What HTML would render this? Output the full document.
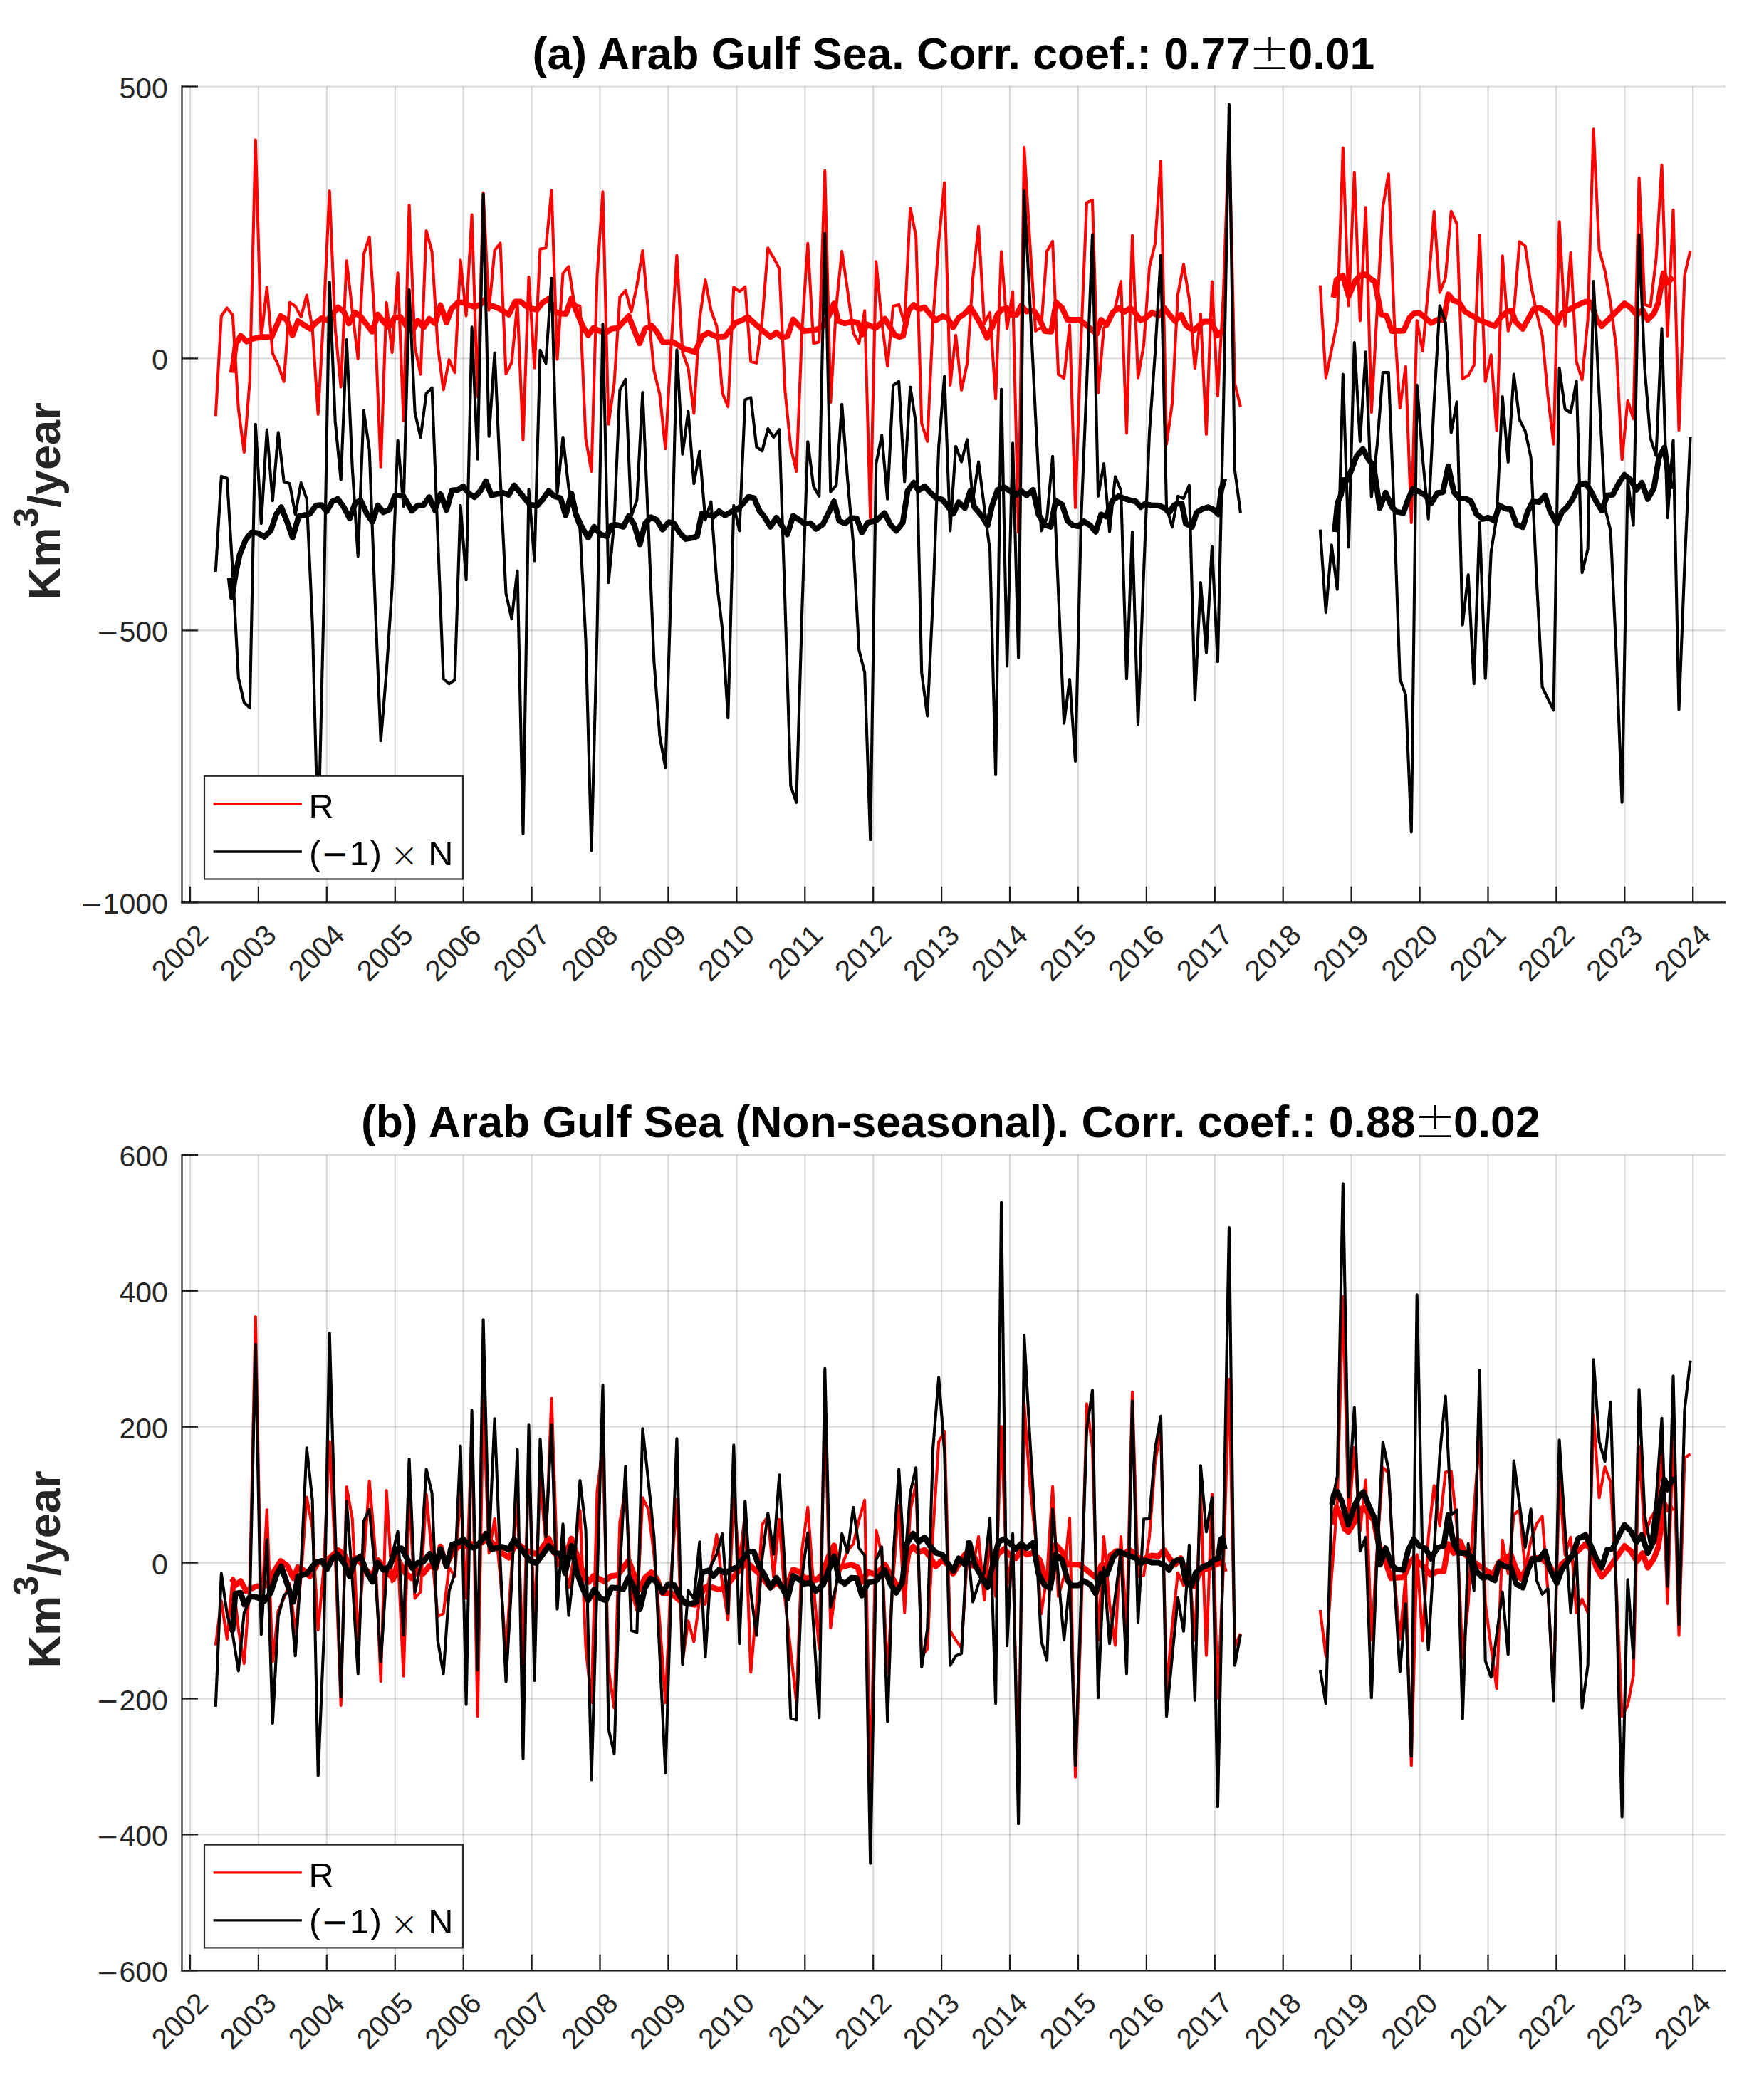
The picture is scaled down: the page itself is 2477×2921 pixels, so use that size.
<!DOCTYPE html>
<html><head><meta charset="utf-8"><title>Arab Gulf Sea</title>
<style>
html,body{margin:0;padding:0;background:#fff}
body{width:2477px;height:2921px;overflow:hidden}
svg{display:block}
text{font-family:"Liberation Sans",sans-serif}
.tk{font-size:41px;fill:#262626}
.mn{font-family:"DejaVu Sans",sans-serif;font-size:38.7px}
.mn2{font-family:"DejaVu Sans",sans-serif;font-size:46.3px}
.tm{font-family:"DejaVu Sans",sans-serif;font-weight:200;font-size:47.5px}
.ti{font-size:62.5px;font-weight:bold;fill:#000}
.yl{font-size:63.2px;font-weight:bold;fill:#262626}
.lg{font-size:48.7px;fill:#000}
.pm{font-weight:200;font-family:"DejaVu Sans",sans-serif;font-size:70.5px}
</style></head><body>
<svg width="2477" height="2921" viewBox="0 0 2477 2921">
<defs>
<clipPath id="clipa"><rect x="255.5" y="121.5" width="2167.5" height="1145.8"/></clipPath>
<clipPath id="clipb"><rect x="255.5" y="1621.9" width="2167.5" height="1145.4"/></clipPath>
</defs>
<rect width="2477" height="2921" fill="#fff"/>
<line x1="267.0" y1="121.5" x2="267.0" y2="1267.3" stroke="#262626" stroke-opacity="0.165" stroke-width="2.2"/>
<line x1="362.9" y1="121.5" x2="362.9" y2="1267.3" stroke="#262626" stroke-opacity="0.165" stroke-width="2.2"/>
<line x1="458.8" y1="121.5" x2="458.8" y2="1267.3" stroke="#262626" stroke-opacity="0.165" stroke-width="2.2"/>
<line x1="554.8" y1="121.5" x2="554.8" y2="1267.3" stroke="#262626" stroke-opacity="0.165" stroke-width="2.2"/>
<line x1="650.7" y1="121.5" x2="650.7" y2="1267.3" stroke="#262626" stroke-opacity="0.165" stroke-width="2.2"/>
<line x1="746.6" y1="121.5" x2="746.6" y2="1267.3" stroke="#262626" stroke-opacity="0.165" stroke-width="2.2"/>
<line x1="842.5" y1="121.5" x2="842.5" y2="1267.3" stroke="#262626" stroke-opacity="0.165" stroke-width="2.2"/>
<line x1="938.4" y1="121.5" x2="938.4" y2="1267.3" stroke="#262626" stroke-opacity="0.165" stroke-width="2.2"/>
<line x1="1034.4" y1="121.5" x2="1034.4" y2="1267.3" stroke="#262626" stroke-opacity="0.165" stroke-width="2.2"/>
<line x1="1130.3" y1="121.5" x2="1130.3" y2="1267.3" stroke="#262626" stroke-opacity="0.165" stroke-width="2.2"/>
<line x1="1226.2" y1="121.5" x2="1226.2" y2="1267.3" stroke="#262626" stroke-opacity="0.165" stroke-width="2.2"/>
<line x1="1322.1" y1="121.5" x2="1322.1" y2="1267.3" stroke="#262626" stroke-opacity="0.165" stroke-width="2.2"/>
<line x1="1418.0" y1="121.5" x2="1418.0" y2="1267.3" stroke="#262626" stroke-opacity="0.165" stroke-width="2.2"/>
<line x1="1514.0" y1="121.5" x2="1514.0" y2="1267.3" stroke="#262626" stroke-opacity="0.165" stroke-width="2.2"/>
<line x1="1609.9" y1="121.5" x2="1609.9" y2="1267.3" stroke="#262626" stroke-opacity="0.165" stroke-width="2.2"/>
<line x1="1705.8" y1="121.5" x2="1705.8" y2="1267.3" stroke="#262626" stroke-opacity="0.165" stroke-width="2.2"/>
<line x1="1801.7" y1="121.5" x2="1801.7" y2="1267.3" stroke="#262626" stroke-opacity="0.165" stroke-width="2.2"/>
<line x1="1897.6" y1="121.5" x2="1897.6" y2="1267.3" stroke="#262626" stroke-opacity="0.165" stroke-width="2.2"/>
<line x1="1993.6" y1="121.5" x2="1993.6" y2="1267.3" stroke="#262626" stroke-opacity="0.165" stroke-width="2.2"/>
<line x1="2089.5" y1="121.5" x2="2089.5" y2="1267.3" stroke="#262626" stroke-opacity="0.165" stroke-width="2.2"/>
<line x1="2185.4" y1="121.5" x2="2185.4" y2="1267.3" stroke="#262626" stroke-opacity="0.165" stroke-width="2.2"/>
<line x1="2281.3" y1="121.5" x2="2281.3" y2="1267.3" stroke="#262626" stroke-opacity="0.165" stroke-width="2.2"/>
<line x1="2377.2" y1="121.5" x2="2377.2" y2="1267.3" stroke="#262626" stroke-opacity="0.165" stroke-width="2.2"/>
<line x1="255.5" y1="121.5" x2="2423.0" y2="121.5" stroke="#262626" stroke-opacity="0.165" stroke-width="2.2"/>
<line x1="255.5" y1="503.4" x2="2423.0" y2="503.4" stroke="#262626" stroke-opacity="0.165" stroke-width="2.2"/>
<line x1="255.5" y1="885.4" x2="2423.0" y2="885.4" stroke="#262626" stroke-opacity="0.165" stroke-width="2.2"/>
<line x1="255.5" y1="1267.3" x2="2423.0" y2="1267.3" stroke="#262626" stroke-opacity="0.165" stroke-width="2.2"/>
<g clip-path="url(#clipa)">
<polyline points="302.8,584.3 310.8,444.0 318.8,432.5 326.8,442.7 334.8,574.1 342.8,635.3 350.8,533.3 358.8,196.5 366.8,475.9 374.8,403.2 382.8,496.3 390.7,512.9 398.7,535.8 406.7,424.8 414.7,429.9 422.7,445.3 430.7,414.6 438.7,461.8 446.7,581.7 454.7,438.9 462.7,268.0 470.7,461.8 478.7,543.5 486.7,366.2 494.7,436.3 502.7,503.9 510.7,357.2 518.7,333.0 526.7,456.7 534.7,655.6 542.6,424.8 550.6,495.0 558.6,383.3 566.6,590.7 574.6,287.9 582.6,487.3 590.6,525.6 598.6,324.1 606.6,353.4 614.6,484.8 622.6,547.3 630.6,505.2 638.6,523.1 646.6,365.4 654.6,443.5 662.6,301.6 670.6,557.5 678.6,270.5 686.6,435.6 694.6,351.6 702.5,341.4 710.5,525.1 718.5,509.0 726.5,426.1 734.5,618.0 742.5,389.1 750.5,516.7 758.5,349.6 766.5,348.3 774.5,267.4 782.5,504.7 790.5,384.0 798.5,374.3 806.5,427.4 814.5,429.9 822.5,616.2 830.5,662.0 838.5,387.9 846.5,269.2 854.5,595.8 862.5,538.4 870.4,417.2 878.4,407.8 886.4,438.4 894.4,400.6 902.4,352.1 910.4,438.9 918.4,520.5 926.4,553.7 934.4,630.2 942.4,487.3 950.4,358.5 958.4,495.0 966.4,516.7 974.4,580.5 982.4,447.8 990.4,393.0 998.4,435.8 1006.4,458.0 1014.4,552.4 1022.3,571.0 1030.3,403.2 1038.3,409.5 1046.3,402.7 1054.3,507.8 1062.3,509.8 1070.3,449.1 1078.3,348.3 1086.3,362.3 1094.3,377.1 1102.3,548.6 1110.3,627.7 1118.3,662.0 1126.3,461.8 1134.3,341.9 1142.3,482.2 1150.3,480.2 1158.3,239.9 1166.3,565.2 1174.3,429.9 1182.2,352.7 1190.2,408.3 1198.2,467.4 1206.2,482.2 1214.2,436.3 1222.2,727.6 1230.2,367.4 1238.2,451.6 1246.2,514.1 1254.2,429.9 1262.2,427.9 1270.2,454.2 1278.2,292.2 1286.2,331.7 1294.2,594.5 1302.2,620.0 1310.2,449.1 1318.2,339.4 1326.2,256.5 1334.2,540.9 1342.1,470.8 1350.1,547.8 1358.1,510.3 1366.1,390.4 1374.1,317.7 1382.1,454.2 1390.1,438.9 1398.1,560.1 1406.1,353.4 1414.1,461.8 1422.1,409.5 1430.1,747.4 1438.1,206.7 1446.1,339.4 1454.1,464.9 1462.1,459.3 1470.1,352.7 1478.1,338.9 1486.1,525.6 1494.1,531.2 1502.0,456.2 1510.0,713.0 1518.0,477.1 1526.0,284.5 1534.0,281.2 1542.0,551.6 1550.0,460.6 1558.0,451.6 1566.0,432.5 1574.0,395.0 1582.0,608.5 1590.0,330.5 1598.0,530.7 1606.0,484.8 1614.0,375.1 1622.0,341.9 1630.0,225.9 1638.0,623.8 1646.0,566.4 1654.0,413.4 1662.0,371.3 1669.9,419.7 1677.9,517.4 1685.9,441.4 1693.9,609.8 1701.9,395.5 1709.9,556.2 1717.9,413.4 1725.9,185.1 1733.9,538.4 1741.9,571.5" fill="none" stroke="#ff0000" stroke-width="4.1" stroke-linejoin="round" stroke-linecap="butt"/>
<polyline points="1853.8,400.6 1861.8,530.7 1869.8,491.2 1877.8,451.6 1885.8,207.5 1893.8,429.4 1901.8,241.7 1909.8,450.4 1917.8,291.4 1925.8,579.2 1933.8,435.1 1941.8,290.9 1949.8,244.2 1957.8,449.1 1965.8,573.3 1973.8,514.6 1981.8,733.9 1989.7,450.4 1997.7,493.0 2005.7,403.2 2013.7,296.8 2021.7,410.8 2029.7,390.4 2037.7,296.8 2045.7,314.4 2053.7,532.0 2061.7,527.4 2069.7,512.9 2077.7,329.7 2085.7,535.8 2093.7,498.3 2101.7,604.7 2109.7,359.3 2117.7,464.9 2125.7,438.9 2133.7,339.4 2141.7,345.3 2149.6,399.3 2157.6,438.9 2165.6,471.5 2173.6,556.2 2181.6,623.8 2189.6,311.3 2197.6,458.0 2205.6,354.7 2213.6,507.8 2221.6,533.3 2229.6,449.1 2237.6,181.2 2245.6,350.9 2253.6,380.2 2261.6,426.1 2269.6,488.6 2277.6,645.5 2285.6,562.6 2293.6,588.1 2301.6,249.6 2309.5,427.7 2317.5,430.5 2325.5,363.9 2333.5,231.7 2341.5,472.0 2349.5,294.7 2357.5,604.2 2365.5,386.6 2373.5,351.9" fill="none" stroke="#ff0000" stroke-width="4.1" stroke-linejoin="round" stroke-linecap="butt"/>
<polyline points="325.8,523.6 331.1,483.5 338.0,471.5 346.4,479.7 354.6,475.9 366.8,473.3 381.4,473.3 394.1,444.0 402.6,449.1 410.7,470.8 418.4,450.9 435.5,461.8 443.9,452.9 451.5,447.0 459.7,449.6 466.8,441.4 474.5,431.7 482.7,437.6 489.8,454.2 498.7,438.9 506.4,444.5 522.4,465.7 530.6,441.9 538.3,451.6 545.9,459.3 553.6,446.5 562.5,445.3 570.7,458.0 579.1,464.9 586.7,450.4 594.9,459.8 602.8,447.8 611.0,454.2 618.6,428.7 627.0,452.9 633.9,433.8 642.9,424.8 650.5,424.8 658.2,428.7 667.1,431.2 674.7,427.4 682.4,419.7 687.5,429.9 692.8,429.9 701.7,433.8 714.4,441.9 723.4,423.6 731.0,423.6 741.2,431.7 754.0,435.1 762.1,424.8 771.3,419.0 778.2,436.3 785.9,440.2 794.8,440.9 802.4,419.0 810.1,438.9 819.0,459.3 825.9,470.8 833.1,460.6 849.6,468.2 858.6,461.8 867.5,460.6 882.8,444.0 898.1,482.2 905.8,461.8 914.7,457.2 922.3,465.7 930.5,480.2 945.3,480.5 960.6,489.9 975.9,494.5 986.1,472.0 994.3,467.4 1007.8,473.3 1018.0,472.6 1033.3,452.9 1042.2,449.6 1049.9,445.3 1065.2,459.3 1081.8,473.3 1090.2,466.9 1098.4,474.1 1106.0,472.0 1113.7,448.6 1121.5,456.7 1129.1,464.9 1145.7,463.1 1154.6,459.3 1163.6,444.0 1171.2,426.1 1176.8,450.4 1186.5,454.2 1195.5,451.6 1204.4,452.9 1210.8,469.5 1217.1,455.5 1229.9,460.6 1242.7,447.8 1249.8,459.3 1256.7,470.8 1263.1,473.3 1268.2,471.5 1275.8,436.3 1283.0,428.2 1289.8,434.3 1298.3,431.7 1305.2,440.2 1314.1,449.8 1323.8,444.0 1330.7,446.5 1338.3,459.8 1346.0,446.5 1354.9,440.2 1362.6,431.7 1370.2,443.5 1377.9,456.7 1386.0,474.6 1393.2,459.3 1400.8,441.4 1407.2,434.3 1413.6,432.5 1419.9,441.9 1427.6,441.9 1434.0,429.2 1441.6,437.6 1451.8,436.3 1460.0,449.1 1467.1,464.9 1476.1,465.7 1483.0,424.8 1491.4,432.5 1499.0,449.1 1515.6,449.1 1525.8,456.7 1539.8,469.0 1546.2,449.1 1553.9,456.2 1562.4,438.9 1570.6,432.5 1578.3,438.4 1587.2,432.5 1593.6,438.9 1601.2,449.8 1608.9,446.5 1617.8,438.9 1626.7,443.5 1634.9,432.5 1642.0,441.9 1650.2,451.1 1658.6,441.9 1665.0,456.2 1670.1,460.6 1676.5,463.9 1684.1,456.7 1690.5,451.6 1700.7,451.6 1709.6,470.8 1719.3,462.3" fill="none" stroke="#ff0000" stroke-width="8.0" stroke-linejoin="round" stroke-linecap="butt"/>
<polyline points="1872.4,418.0 1876.7,393.0 1885.7,387.3 1893.8,415.9 1902.2,395.5 1909.9,386.6 1917.6,385.3 1923.9,390.9 1930.8,396.0 1934.9,418.5 1939.2,441.4 1946.9,443.5 1954.5,464.9 1971.1,464.4 1978.8,447.0 1985.2,440.2 1992.9,439.4 2001.8,446.5 2009.4,453.7 2018.4,449.1 2027.3,449.1 2033.7,413.4 2041.3,422.3 2049.0,424.8 2057.1,437.6 2077.0,449.1 2098.7,458.0 2107.7,445.3 2116.6,437.6 2122.4,435.8 2128.1,451.6 2138.3,461.8 2153.6,433.8 2162.5,432.5 2172.7,438.9 2186.2,454.2 2193.1,440.2 2212.2,429.9 2226.3,423.6 2233.9,424.8 2241.6,447.8 2249.2,458.0 2258.2,449.1 2281.1,426.1 2290.1,432.5 2298.5,442.7 2306.6,435.1 2313.8,449.1 2322.4,440.2 2328.3,426.1 2335.7,383.8 2341.3,396.8 2349.5,389.4" fill="none" stroke="#ff0000" stroke-width="8.0" stroke-linejoin="round" stroke-linecap="butt"/>
<polyline points="302.8,802.8 310.8,668.9 318.8,671.4 326.8,804.1 334.8,952.0 342.8,986.5 350.8,994.1 358.8,595.8 366.8,735.2 374.8,603.6 382.8,703.3 390.7,607.4 398.7,676.5 406.7,679.1 414.7,722.4 422.7,677.8 430.7,700.8 438.7,875.5 446.7,1184.2 454.7,847.4 462.7,396.0 470.7,591.9 478.7,674.0 486.7,477.1 494.7,656.1 502.7,781.1 510.7,576.6 518.7,631.9 526.7,844.9 534.7,1040.1 542.6,944.4 550.6,824.5 558.6,618.4 566.6,711.0 574.6,407.0 582.6,579.2 590.6,614.0 598.6,552.4 606.6,544.7 614.6,750.5 622.6,953.3 630.6,960.2 638.6,955.1 646.6,709.7 654.6,814.3 662.6,459.3 670.6,644.6 678.6,272.6 686.6,612.8 694.6,495.5 702.5,671.4 710.5,833.4 718.5,869.1 726.5,801.5 734.5,1170.9 742.5,687.2 750.5,787.5 758.5,491.9 766.5,510.3 774.5,390.9 782.5,693.1 790.5,614.0 798.5,685.5 806.5,722.4 814.5,742.9 822.5,898.5 830.5,1194.4 838.5,885.7 846.5,454.9 854.5,818.1 862.5,732.7 870.4,547.8 878.4,532.8 886.4,725.0 894.4,702.0 902.4,551.1 910.4,737.8 918.4,929.1 926.4,1033.7 934.4,1078.3 942.4,819.4 950.4,491.2 958.4,637.8 966.4,577.9 974.4,679.1 982.4,633.7 990.4,730.1 998.4,704.6 1006.4,816.8 1014.4,884.4 1022.3,1008.2 1030.3,709.7 1038.3,745.4 1046.3,561.3 1054.3,558.3 1062.3,627.6 1070.3,633.2 1078.3,602.0 1086.3,614.0 1094.3,603.1 1102.3,844.9 1110.3,1103.8 1118.3,1126.8 1126.3,855.1 1134.3,620.4 1142.3,682.9 1150.3,696.9 1158.3,327.9 1166.3,690.6 1174.3,681.6 1182.2,567.7 1190.2,674.0 1198.2,763.3 1206.2,912.5 1214.2,944.4 1222.2,1179.3 1230.2,651.0 1238.2,611.5 1246.2,700.8 1254.2,540.9 1262.2,535.8 1270.2,676.5 1278.2,543.5 1286.2,594.5 1294.2,944.4 1302.2,1005.6 1310.2,838.5 1318.2,626.8 1326.2,528.7 1334.2,745.4 1342.1,626.8 1350.1,648.5 1358.1,617.3 1366.1,702.0 1374.1,648.5 1382.1,712.2 1390.1,773.5 1398.1,1088.0 1406.1,546.5 1414.1,935.5 1422.1,622.4 1430.1,924.0 1438.1,268.0 1446.1,422.3 1454.1,584.3 1462.1,745.4 1470.1,727.6 1478.1,640.8 1486.1,830.9 1494.1,1015.8 1502.0,954.1 1510.0,1068.9 1518.0,732.7 1526.0,538.4 1534.0,329.2 1542.0,696.9 1550.0,651.0 1558.0,746.7 1566.0,669.4 1574.0,688.8 1582.0,953.3 1590.0,746.7 1598.0,1017.1 1606.0,804.1 1614.0,607.7 1622.0,495.8 1630.0,358.5 1638.0,712.2 1646.0,740.3 1654.0,696.9 1662.0,700.0 1669.9,681.6 1677.9,982.7 1685.9,818.1 1693.9,916.3 1701.9,767.6 1709.9,929.1 1717.9,577.0 1725.9,146.8 1733.9,659.9 1741.9,719.9" fill="none" stroke="#000000" stroke-width="4.1" stroke-linejoin="round" stroke-linecap="butt"/>
<polyline points="1853.8,743.6 1861.8,860.2 1869.8,765.3 1877.8,827.8 1885.8,525.6 1893.8,768.4 1901.8,481.0 1909.8,619.9 1917.8,494.2 1925.8,698.2 1933.8,625.0 1941.8,523.1 1949.8,523.1 1957.8,722.4 1965.8,953.3 1973.8,975.5 1981.8,1168.4 1989.7,540.9 1997.7,643.4 2005.7,728.8 2013.7,565.1 2021.7,429.2 2029.7,452.9 2037.7,607.7 2045.7,564.4 2053.7,877.6 2061.7,807.1 2069.7,960.2 2077.7,733.9 2085.7,952.8 2093.7,776.0 2101.7,725.0 2109.7,557.0 2117.7,649.0 2125.7,525.6 2133.7,589.4 2141.7,605.1 2149.6,642.1 2157.6,811.7 2165.6,964.8 2173.6,981.4 2181.6,997.4 2189.6,516.7 2197.6,574.6 2205.6,579.7 2213.6,535.3 2221.6,804.1 2229.6,770.9 2237.6,395.0 2245.6,554.1 2253.6,712.2 2261.6,745.4 2269.6,918.9 2277.6,1126.8 2285.6,674.0 2293.6,737.8 2301.6,329.2 2309.5,518.0 2317.5,615.3 2325.5,639.5 2333.5,461.3 2341.5,727.0 2349.5,618.4 2357.5,996.7 2365.5,793.9 2373.5,614.0" fill="none" stroke="#000000" stroke-width="4.1" stroke-linejoin="round" stroke-linecap="butt"/>
<polyline points="322.7,811.2 325.8,838.5 331.1,804.1 336.7,778.6 344.9,758.2 353.3,747.4 362.2,748.7 371.2,753.8 380.1,745.4 387.8,722.4 394.9,712.2 403.1,732.7 410.7,754.8 419.6,725.0 434.9,721.9 443.9,709.7 451.5,709.2 458.7,717.9 466.8,704.1 474.5,700.8 482.7,712.2 491.1,728.1 498.7,706.6 506.4,702.6 515.3,721.9 523.0,732.7 530.6,709.7 538.3,719.4 547.2,715.3 554.8,695.7 566.3,696.4 578.3,717.3 586.7,709.7 594.4,709.7 602.8,698.2 610.5,716.1 618.6,693.9 627.0,716.1 634.7,688.5 642.9,688.0 650.5,682.9 658.2,693.1 666.3,698.2 674.7,689.3 682.4,675.8 690.1,695.7 705.5,691.8 714.4,694.9 722.1,681.6 732.3,694.4 743.8,708.4 754.0,710.2 761.6,702.0 770.6,689.3 778.2,696.9 787.1,699.5 794.3,723.7 802.4,693.1 808.8,722.4 817.8,741.6 825.9,755.1 834.3,739.8 843.3,750.5 852.2,753.1 858.6,737.8 866.2,737.2 875.2,739.8 882.8,725.0 890.5,736.5 898.6,764.5 905.8,735.2 914.2,726.3 922.3,730.1 930.5,743.6 938.9,733.2 946.6,735.2 954.2,748.0 962.7,756.9 970.8,755.6 979.0,753.1 985.4,721.2 992.5,721.9 1001.4,725.5 1009.8,717.9 1018.0,723.7 1026.9,718.6 1035.9,715.3 1043.5,707.1 1051.2,697.7 1058.8,699.5 1066.5,717.3 1072.9,725.0 1081.8,739.8 1090.2,727.0 1098.4,739.0 1105.5,750.5 1113.7,724.5 1122.6,730.1 1129.1,735.2 1138.1,734.7 1145.7,742.9 1155.4,736.5 1163.6,719.9 1171.2,704.1 1178.4,731.4 1186.5,735.2 1195.5,727.6 1203.1,728.1 1210.3,748.0 1218.4,733.9 1229.9,731.4 1242.1,720.4 1250.3,736.5 1258.5,745.4 1267.7,733.9 1274.5,689.3 1283.0,677.8 1289.8,688.8 1298.3,682.9 1305.2,690.6 1314.1,699.0 1323.0,701.5 1331.9,712.2 1338.8,721.2 1346.0,705.1 1354.9,713.5 1362.6,689.3 1368.2,712.2 1377.9,723.7 1386.8,737.8 1393.2,709.7 1400.8,688.0 1409.7,684.2 1418.7,689.8 1426.3,695.7 1434.0,689.3 1441.6,695.7 1450.6,688.0 1458.2,722.4 1467.1,737.2 1475.3,739.8 1482.4,703.3 1491.4,708.4 1499.0,731.4 1506.7,737.8 1514.3,739.0 1522.0,732.1 1530.9,737.8 1538.6,746.7 1546.2,722.4 1553.9,725.5 1557.9,712.2 1563.0,702.0 1570.6,696.9 1578.3,700.0 1587.2,702.6 1594.8,704.1 1602.0,712.2 1607.6,707.7 1617.8,709.7 1626.7,709.7 1635.7,713.5 1641.5,719.9 1648.4,709.7 1653.5,707.1 1659.4,707.1 1665.0,735.2 1673.9,739.8 1680.3,719.9 1688.0,714.8 1696.9,712.2 1704.5,716.1 1710.9,722.4 1714.7,689.3 1719.1,672.2" fill="none" stroke="#000000" stroke-width="8.0" stroke-linejoin="round" stroke-linecap="butt"/>
<polyline points="1874.2,747.2 1878.0,707.1 1883.1,694.4 1886.4,674.0 1892.0,674.0 1897.1,661.2 1904.8,640.8 1913.7,630.6 1921.4,644.6 1929.0,654.8 1937.4,713.5 1945.6,691.8 1954.5,712.2 1960.9,718.6 1970.6,720.4 1977.5,700.8 1983.9,686.7 1992.9,690.6 2001.8,695.7 2009.4,707.1 2018.4,692.3 2026.0,691.3 2033.7,654.8 2041.3,690.6 2049.0,700.0 2057.9,700.0 2065.6,704.1 2073.2,721.9 2082.1,728.8 2089.8,727.0 2098.7,731.4 2105.1,709.7 2114.0,714.3 2121.7,715.3 2129.3,736.5 2138.3,740.3 2144.6,719.9 2152.3,704.1 2161.2,705.1 2169.4,695.7 2176.5,717.9 2186.2,735.2 2193.1,719.4 2200.8,711.7 2208.4,700.8 2217.3,681.1 2226.3,678.6 2233.9,689.8 2241.6,704.6 2249.2,716.8 2256.9,695.7 2264.5,694.9 2273.5,677.8 2281.1,666.8 2290.1,674.0 2297.7,688.0 2305.4,677.8 2313.8,700.8 2322.4,685.5 2329.6,642.1 2337.2,628.6 2342.3,663.8 2346.7,687.0" fill="none" stroke="#000000" stroke-width="8.0" stroke-linejoin="round" stroke-linecap="butt"/>
</g>
<line x1="255.5" y1="120.3" x2="255.5" y2="1268.5" stroke="#1a1a1a" stroke-width="2.2"/>
<line x1="254.3" y1="1267.3" x2="2423.0" y2="1267.3" stroke="#1a1a1a" stroke-width="2.2"/>
<line x1="267.0" y1="1267.3" x2="267.0" y2="1244.8" stroke="#1a1a1a" stroke-width="2.2"/>
<text class="tk" text-anchor="end" transform="translate(294.6,1315.7) rotate(-45)">2002</text>
<line x1="362.9" y1="1267.3" x2="362.9" y2="1244.8" stroke="#1a1a1a" stroke-width="2.2"/>
<text class="tk" text-anchor="end" transform="translate(390.5,1315.7) rotate(-45)">2003</text>
<line x1="458.8" y1="1267.3" x2="458.8" y2="1244.8" stroke="#1a1a1a" stroke-width="2.2"/>
<text class="tk" text-anchor="end" transform="translate(486.4,1315.7) rotate(-45)">2004</text>
<line x1="554.8" y1="1267.3" x2="554.8" y2="1244.8" stroke="#1a1a1a" stroke-width="2.2"/>
<text class="tk" text-anchor="end" transform="translate(582.4,1315.7) rotate(-45)">2005</text>
<line x1="650.7" y1="1267.3" x2="650.7" y2="1244.8" stroke="#1a1a1a" stroke-width="2.2"/>
<text class="tk" text-anchor="end" transform="translate(678.3,1315.7) rotate(-45)">2006</text>
<line x1="746.6" y1="1267.3" x2="746.6" y2="1244.8" stroke="#1a1a1a" stroke-width="2.2"/>
<text class="tk" text-anchor="end" transform="translate(774.2,1315.7) rotate(-45)">2007</text>
<line x1="842.5" y1="1267.3" x2="842.5" y2="1244.8" stroke="#1a1a1a" stroke-width="2.2"/>
<text class="tk" text-anchor="end" transform="translate(870.1,1315.7) rotate(-45)">2008</text>
<line x1="938.4" y1="1267.3" x2="938.4" y2="1244.8" stroke="#1a1a1a" stroke-width="2.2"/>
<text class="tk" text-anchor="end" transform="translate(966.0,1315.7) rotate(-45)">2009</text>
<line x1="1034.4" y1="1267.3" x2="1034.4" y2="1244.8" stroke="#1a1a1a" stroke-width="2.2"/>
<text class="tk" text-anchor="end" transform="translate(1062.0,1315.7) rotate(-45)">2010</text>
<line x1="1130.3" y1="1267.3" x2="1130.3" y2="1244.8" stroke="#1a1a1a" stroke-width="2.2"/>
<text class="tk" text-anchor="end" transform="translate(1157.9,1315.7) rotate(-45)">2011</text>
<line x1="1226.2" y1="1267.3" x2="1226.2" y2="1244.8" stroke="#1a1a1a" stroke-width="2.2"/>
<text class="tk" text-anchor="end" transform="translate(1253.8,1315.7) rotate(-45)">2012</text>
<line x1="1322.1" y1="1267.3" x2="1322.1" y2="1244.8" stroke="#1a1a1a" stroke-width="2.2"/>
<text class="tk" text-anchor="end" transform="translate(1349.7,1315.7) rotate(-45)">2013</text>
<line x1="1418.0" y1="1267.3" x2="1418.0" y2="1244.8" stroke="#1a1a1a" stroke-width="2.2"/>
<text class="tk" text-anchor="end" transform="translate(1445.6,1315.7) rotate(-45)">2014</text>
<line x1="1514.0" y1="1267.3" x2="1514.0" y2="1244.8" stroke="#1a1a1a" stroke-width="2.2"/>
<text class="tk" text-anchor="end" transform="translate(1541.6,1315.7) rotate(-45)">2015</text>
<line x1="1609.9" y1="1267.3" x2="1609.9" y2="1244.8" stroke="#1a1a1a" stroke-width="2.2"/>
<text class="tk" text-anchor="end" transform="translate(1637.5,1315.7) rotate(-45)">2016</text>
<line x1="1705.8" y1="1267.3" x2="1705.8" y2="1244.8" stroke="#1a1a1a" stroke-width="2.2"/>
<text class="tk" text-anchor="end" transform="translate(1733.4,1315.7) rotate(-45)">2017</text>
<line x1="1801.7" y1="1267.3" x2="1801.7" y2="1244.8" stroke="#1a1a1a" stroke-width="2.2"/>
<text class="tk" text-anchor="end" transform="translate(1829.3,1315.7) rotate(-45)">2018</text>
<line x1="1897.6" y1="1267.3" x2="1897.6" y2="1244.8" stroke="#1a1a1a" stroke-width="2.2"/>
<text class="tk" text-anchor="end" transform="translate(1925.2,1315.7) rotate(-45)">2019</text>
<line x1="1993.6" y1="1267.3" x2="1993.6" y2="1244.8" stroke="#1a1a1a" stroke-width="2.2"/>
<text class="tk" text-anchor="end" transform="translate(2021.2,1315.7) rotate(-45)">2020</text>
<line x1="2089.5" y1="1267.3" x2="2089.5" y2="1244.8" stroke="#1a1a1a" stroke-width="2.2"/>
<text class="tk" text-anchor="end" transform="translate(2117.1,1315.7) rotate(-45)">2021</text>
<line x1="2185.4" y1="1267.3" x2="2185.4" y2="1244.8" stroke="#1a1a1a" stroke-width="2.2"/>
<text class="tk" text-anchor="end" transform="translate(2213.0,1315.7) rotate(-45)">2022</text>
<line x1="2281.3" y1="1267.3" x2="2281.3" y2="1244.8" stroke="#1a1a1a" stroke-width="2.2"/>
<text class="tk" text-anchor="end" transform="translate(2308.9,1315.7) rotate(-45)">2023</text>
<line x1="2377.2" y1="1267.3" x2="2377.2" y2="1244.8" stroke="#1a1a1a" stroke-width="2.2"/>
<text class="tk" text-anchor="end" transform="translate(2404.8,1315.7) rotate(-45)">2024</text>
<line x1="255.5" y1="121.5" x2="278.0" y2="121.5" stroke="#1a1a1a" stroke-width="2.2"/>
<text class="tk" text-anchor="end" x="235.8" y="137.5">500</text>
<line x1="255.5" y1="503.4" x2="278.0" y2="503.4" stroke="#1a1a1a" stroke-width="2.2"/>
<text class="tk" text-anchor="end" x="235.8" y="519.4">0</text>
<line x1="255.5" y1="885.4" x2="278.0" y2="885.4" stroke="#1a1a1a" stroke-width="2.2"/>
<text class="tk" text-anchor="end" x="235.8" y="901.4"><tspan class="mn">−</tspan>500</text>
<line x1="255.5" y1="1267.3" x2="278.0" y2="1267.3" stroke="#1a1a1a" stroke-width="2.2"/>
<text class="tk" text-anchor="end" x="235.8" y="1283.3"><tspan class="mn">−</tspan>1000</text>
<text class="ti" y="96.9"><tspan text-anchor="end" x="1756.0">(a) Arab Gulf Sea. Corr. coef.: 0.77</tspan></text>
<text class="ti" y="96.9"><tspan class="pm" x="1753.4">±</tspan><tspan x="1808.6">0.01</tspan></text>
<text class="yl" text-anchor="middle" transform="translate(83.7,703.8) rotate(-90)">Km<tspan dy="-30" font-size="50">3</tspan><tspan dy="30">/year</tspan></text>
<rect x="287" y="1089.7" width="363" height="144.8" fill="#fff" stroke="#262626" stroke-width="2.2"/>
<line x1="299.6" x2="423.8" y1="1129.0" y2="1129.0" stroke="#ff0000" stroke-width="3.4"/>
<line x1="299.6" x2="423.8" y1="1196.0" y2="1196.0" stroke="#000" stroke-width="3.4"/>
<text class="lg" x="433.6" y="1148.8">R</text>
<text class="lg" y="1214.5"><tspan x="434">(</tspan><tspan class="mn2" x="450.7">−</tspan><tspan x="491">1</tspan><tspan x="519.7">) </tspan><tspan class="tm" x="547.7" dy="2.5">× </tspan><tspan x="601.3" dy="-2.5">N</tspan></text><line x1="267.0" y1="1621.9" x2="267.0" y2="2767.3" stroke="#262626" stroke-opacity="0.165" stroke-width="2.2"/>
<line x1="362.9" y1="1621.9" x2="362.9" y2="2767.3" stroke="#262626" stroke-opacity="0.165" stroke-width="2.2"/>
<line x1="458.8" y1="1621.9" x2="458.8" y2="2767.3" stroke="#262626" stroke-opacity="0.165" stroke-width="2.2"/>
<line x1="554.8" y1="1621.9" x2="554.8" y2="2767.3" stroke="#262626" stroke-opacity="0.165" stroke-width="2.2"/>
<line x1="650.7" y1="1621.9" x2="650.7" y2="2767.3" stroke="#262626" stroke-opacity="0.165" stroke-width="2.2"/>
<line x1="746.6" y1="1621.9" x2="746.6" y2="2767.3" stroke="#262626" stroke-opacity="0.165" stroke-width="2.2"/>
<line x1="842.5" y1="1621.9" x2="842.5" y2="2767.3" stroke="#262626" stroke-opacity="0.165" stroke-width="2.2"/>
<line x1="938.4" y1="1621.9" x2="938.4" y2="2767.3" stroke="#262626" stroke-opacity="0.165" stroke-width="2.2"/>
<line x1="1034.4" y1="1621.9" x2="1034.4" y2="2767.3" stroke="#262626" stroke-opacity="0.165" stroke-width="2.2"/>
<line x1="1130.3" y1="1621.9" x2="1130.3" y2="2767.3" stroke="#262626" stroke-opacity="0.165" stroke-width="2.2"/>
<line x1="1226.2" y1="1621.9" x2="1226.2" y2="2767.3" stroke="#262626" stroke-opacity="0.165" stroke-width="2.2"/>
<line x1="1322.1" y1="1621.9" x2="1322.1" y2="2767.3" stroke="#262626" stroke-opacity="0.165" stroke-width="2.2"/>
<line x1="1418.0" y1="1621.9" x2="1418.0" y2="2767.3" stroke="#262626" stroke-opacity="0.165" stroke-width="2.2"/>
<line x1="1514.0" y1="1621.9" x2="1514.0" y2="2767.3" stroke="#262626" stroke-opacity="0.165" stroke-width="2.2"/>
<line x1="1609.9" y1="1621.9" x2="1609.9" y2="2767.3" stroke="#262626" stroke-opacity="0.165" stroke-width="2.2"/>
<line x1="1705.8" y1="1621.9" x2="1705.8" y2="2767.3" stroke="#262626" stroke-opacity="0.165" stroke-width="2.2"/>
<line x1="1801.7" y1="1621.9" x2="1801.7" y2="2767.3" stroke="#262626" stroke-opacity="0.165" stroke-width="2.2"/>
<line x1="1897.6" y1="1621.9" x2="1897.6" y2="2767.3" stroke="#262626" stroke-opacity="0.165" stroke-width="2.2"/>
<line x1="1993.6" y1="1621.9" x2="1993.6" y2="2767.3" stroke="#262626" stroke-opacity="0.165" stroke-width="2.2"/>
<line x1="2089.5" y1="1621.9" x2="2089.5" y2="2767.3" stroke="#262626" stroke-opacity="0.165" stroke-width="2.2"/>
<line x1="2185.4" y1="1621.9" x2="2185.4" y2="2767.3" stroke="#262626" stroke-opacity="0.165" stroke-width="2.2"/>
<line x1="2281.3" y1="1621.9" x2="2281.3" y2="2767.3" stroke="#262626" stroke-opacity="0.165" stroke-width="2.2"/>
<line x1="2377.2" y1="1621.9" x2="2377.2" y2="2767.3" stroke="#262626" stroke-opacity="0.165" stroke-width="2.2"/>
<line x1="255.5" y1="1621.9" x2="2423.0" y2="1621.9" stroke="#262626" stroke-opacity="0.165" stroke-width="2.2"/>
<line x1="255.5" y1="1812.8" x2="2423.0" y2="1812.8" stroke="#262626" stroke-opacity="0.165" stroke-width="2.2"/>
<line x1="255.5" y1="2003.7" x2="2423.0" y2="2003.7" stroke="#262626" stroke-opacity="0.165" stroke-width="2.2"/>
<line x1="255.5" y1="2194.6" x2="2423.0" y2="2194.6" stroke="#262626" stroke-opacity="0.165" stroke-width="2.2"/>
<line x1="255.5" y1="2385.5" x2="2423.0" y2="2385.5" stroke="#262626" stroke-opacity="0.165" stroke-width="2.2"/>
<line x1="255.5" y1="2576.4" x2="2423.0" y2="2576.4" stroke="#262626" stroke-opacity="0.165" stroke-width="2.2"/>
<line x1="255.5" y1="2767.3" x2="2423.0" y2="2767.3" stroke="#262626" stroke-opacity="0.165" stroke-width="2.2"/>
<g clip-path="url(#clipb)">
<polyline points="302.8,2310.7 310.8,2248.2 318.8,2301.8 326.8,2215.8 334.8,2287.8 342.8,2336.2 350.8,2224.0 358.8,1849.0 366.8,2272.4 374.8,2120.4 382.8,2333.7 390.7,2262.2 398.7,2244.4 406.7,2224.0 414.7,2292.9 422.7,2213.8 430.7,2102.6 438.7,2145.4 446.7,2289.0 454.7,2201.0 462.7,2024.2 470.7,2181.1 478.7,2394.9 486.7,2088.0 494.7,2132.7 502.7,2300.5 510.7,2193.9 518.7,2079.8 526.7,2175.5 534.7,2361.2 542.6,2093.1 550.6,2221.4 558.6,2181.1 566.6,2353.6 574.6,2102.0 582.6,2244.4 590.6,2235.5 598.6,2098.2 606.6,2183.7 614.6,2269.9 622.6,2266.1 630.6,2201.0 638.6,2213.8 646.6,2094.4 654.6,2244.4 662.6,2005.1 670.6,2410.2 678.6,1966.8 686.6,2181.1 694.6,2132.7 702.5,2213.8 710.5,2320.9 718.5,2201.0 726.5,2107.1 734.5,2336.2 742.5,2043.4 750.5,2282.7 758.5,2076.5 766.5,2168.4 774.5,1963.8 782.5,2199.0 790.5,2183.7 798.5,2229.1 806.5,2183.2 814.5,2121.2 822.5,2313.3 830.5,2391.1 838.5,2094.4 846.5,2030.6 854.5,2343.9 862.5,2398.7 870.4,2137.8 878.4,2089.3 886.4,2234.2 894.4,2262.2 902.4,2103.3 910.4,2119.9 918.4,2183.2 926.4,2277.6 934.4,2391.1 942.4,2213.8 950.4,2105.4 958.4,2333.7 966.4,2276.2 974.4,2305.6 982.4,2246.0 990.4,2253.0 998.4,2200.0 1006.4,2155.0 1014.4,2225.4 1022.3,2275.0 1030.3,2105.4 1038.3,2193.0 1046.3,2125.0 1054.3,2348.5 1062.3,2257.0 1070.3,2141.0 1078.3,2129.6 1086.3,2215.0 1094.3,2133.7 1102.3,2246.0 1110.3,2318.4 1118.3,2389.8 1126.3,2175.5 1134.3,2116.8 1142.3,2226.5 1150.3,2315.8 1158.3,1968.9 1166.3,2286.5 1174.3,2224.0 1182.2,2198.5 1190.2,2178.1 1198.2,2167.9 1206.2,2134.7 1214.2,2106.6 1222.2,2507.1 1230.2,2148.7 1238.2,2183.2 1246.2,2349.0 1254.2,2213.8 1262.2,2114.3 1270.2,2264.8 1278.2,2121.9 1286.2,2083.7 1294.2,2326.0 1302.2,2315.8 1310.2,2150.0 1318.2,2025.0 1326.2,2009.7 1334.2,2290.3 1342.1,2303.1 1350.1,2314.5 1358.1,2188.3 1366.1,2201.0 1374.1,2157.7 1382.1,2246.9 1390.1,2162.8 1398.1,2241.8 1406.1,2003.3 1414.1,2226.5 1422.1,2175.5 1430.1,2507.1 1438.1,1971.4 1446.1,2083.7 1454.1,2160.2 1462.1,2266.1 1470.1,2213.8 1478.1,2087.5 1486.1,2241.8 1494.1,2213.8 1502.0,2132.1 1510.0,2495.7 1518.0,2277.6 1526.0,1971.4 1534.0,2032.7 1542.0,2303.1 1550.0,2157.7 1558.0,2252.0 1566.0,2310.7 1574.0,2157.7 1582.0,2287.8 1590.0,1954.8 1598.0,2213.8 1606.0,2212.5 1614.0,2157.7 1622.0,2053.1 1630.0,2007.1 1638.0,2374.5 1646.0,2282.7 1654.0,2208.7 1662.0,2226.5 1669.9,2201.0 1677.9,2303.1 1685.9,2099.0 1693.9,2324.7 1701.9,2097.7 1709.9,2384.7 1717.9,2201.0 1725.9,1937.0 1733.9,2313.3 1741.9,2294.1" fill="none" stroke="#ff0000" stroke-width="4.1" stroke-linejoin="round" stroke-linecap="butt"/>
<polyline points="1853.8,2261.0 1861.8,2326.0 1869.8,2213.8 1877.8,2109.2 1885.8,1820.9 1893.8,2134.7 1901.8,2032.7 1909.8,2150.0 1917.8,2078.6 1925.8,2303.1 1933.8,2175.5 1941.8,2060.7 1949.8,2068.4 1957.8,2213.8 1965.8,2301.8 1973.8,2213.8 1981.8,2479.1 1989.7,2183.2 1997.7,2304.3 2005.7,2158.2 2013.7,2086.2 2021.7,2142.9 2029.7,2067.6 2037.7,2065.8 2045.7,2142.9 2053.7,2328.6 2061.7,2252.0 2069.7,2119.9 2077.7,2017.9 2085.7,2252.0 2093.7,2313.3 2101.7,2371.4 2109.7,2162.8 2117.7,2209.9 2125.7,2127.6 2133.7,2119.9 2141.7,2204.1 2149.6,2163.3 2157.6,2140.3 2165.6,2129.6 2173.6,2236.7 2181.6,2374.5 2189.6,2079.1 2197.6,2183.7 2205.6,2158.9 2213.6,2264.8 2221.6,2245.7 2229.6,2264.8 2237.6,1987.2 2245.6,2103.3 2253.6,2059.9 2261.6,2081.6 2269.6,2226.5 2277.6,2410.2 2285.6,2394.9 2293.6,2352.8 2301.6,2030.6 2309.5,2158.2 2317.5,2132.7 2325.5,2119.9 2333.5,2043.4 2341.5,2252.0 2349.5,2017.9 2357.5,2296.7 2365.5,2047.2 2373.5,2042.1" fill="none" stroke="#ff0000" stroke-width="4.1" stroke-linejoin="round" stroke-linecap="butt"/>
<polyline points="325.8,2216.8 330.4,2226.5 338.0,2220.2 345.7,2234.2 359.7,2227.8 375.0,2226.0 385.2,2206.1 394.1,2192.1 403.1,2198.5 412.0,2216.3 418.4,2201.0 426.0,2204.8 434.9,2213.8 446.4,2194.6 454.1,2192.1 463.0,2188.3 474.5,2176.8 483.4,2183.2 491.1,2198.5 498.7,2188.3 506.4,2194.6 515.3,2206.1 523.0,2213.8 530.6,2190.8 538.3,2201.0 545.9,2209.9 552.3,2217.6 559.9,2192.1 568.9,2208.7 577.8,2216.3 586.7,2204.8 594.4,2209.9 603.3,2198.5 612.2,2202.3 618.6,2171.7 626.3,2198.5 635.2,2180.6 644.1,2171.7 651.8,2171.7 660.7,2167.9 668.4,2170.4 676.0,2166.6 683.7,2161.5 691.3,2166.6 701.7,2178.6 714.4,2187.5 722.1,2172.2 731.0,2170.9 741.2,2178.6 754.0,2182.4 762.1,2172.2 770.6,2160.7 778.2,2181.1 785.9,2186.2 793.5,2187.5 802.4,2160.7 810.1,2183.7 819.0,2209.2 826.7,2221.9 833.1,2213.0 848.4,2220.7 858.6,2213.0 867.5,2212.2 882.8,2191.3 898.1,2232.1 905.8,2215.6 914.7,2207.9 922.3,2216.8 930.0,2237.2 942.8,2237.2 954.2,2247.4 965.7,2251.3 975.9,2253.8 988.7,2230.9 993.8,2227.0 1009.1,2232.1 1018.0,2229.6 1033.3,2210.5 1048.6,2193.9 1065.2,2209.2 1081.8,2229.6 1090.7,2221.9 1098.4,2229.6 1104.7,2228.3 1113.7,2204.1 1122.8,2207.4 1130.4,2216.8 1138.1,2215.1 1145.7,2218.9 1154.6,2211.2 1163.6,2185.7 1171.2,2170.4 1176.8,2202.3 1185.3,2199.7 1195.5,2197.2 1204.4,2201.0 1210.8,2221.4 1218.4,2207.4 1229.9,2211.2 1242.7,2197.2 1250.3,2211.2 1258.0,2224.0 1263.1,2226.5 1269.4,2221.4 1275.8,2180.6 1282.2,2171.7 1289.8,2180.1 1298.3,2176.8 1305.2,2185.7 1314.1,2199.7 1323.0,2190.8 1330.7,2197.2 1338.3,2209.9 1346.0,2197.2 1354.9,2183.2 1362.6,2175.5 1370.2,2190.8 1377.9,2206.1 1386.0,2226.5 1393.2,2209.9 1400.8,2183.2 1409.7,2175.5 1418.7,2184.4 1426.3,2188.3 1434.0,2176.8 1441.6,2183.2 1450.6,2180.6 1460.0,2190.8 1467.1,2213.8 1474.8,2216.3 1482.4,2169.1 1491.4,2179.3 1499.0,2197.2 1515.6,2197.2 1525.8,2204.8 1539.8,2216.3 1546.2,2198.5 1553.9,2197.2 1559.1,2184.4 1568.1,2178.1 1577.0,2183.2 1585.9,2176.8 1594.8,2183.2 1602.5,2193.4 1610.2,2187.0 1617.8,2184.4 1626.7,2185.7 1634.4,2176.8 1642.0,2188.3 1650.2,2197.2 1657.9,2188.3 1665.0,2208.7 1671.4,2220.2 1677.8,2227.8 1682.9,2211.2 1690.5,2204.8 1700.7,2201.0 1709.6,2195.9 1716.0,2193.4 1719.8,2207.4" fill="none" stroke="#ff0000" stroke-width="8.0" stroke-linejoin="round" stroke-linecap="butt"/>
<polyline points="1871.6,2141.1 1876.7,2116.8 1883.1,2129.6 1888.2,2147.4 1893.3,2151.3 1902.2,2137.2 1908.6,2120.7 1915.0,2116.8 1922.7,2127.0 1929.0,2134.7 1934.1,2160.2 1938.0,2175.5 1945.6,2193.4 1953.3,2216.3 1971.1,2215.1 1978.8,2195.9 1985.2,2188.3 1992.9,2195.2 2001.8,2202.8 2009.4,2211.7 2018.4,2206.6 2027.3,2206.6 2033.7,2168.4 2041.3,2181.1 2050.3,2164.5 2057.9,2183.7 2077.0,2199.0 2096.2,2211.7 2105.1,2193.9 2114.0,2188.8 2121.7,2183.7 2128.1,2201.5 2135.7,2216.8 2151.0,2188.8 2162.5,2187.5 2172.7,2195.2 2185.5,2213.0 2193.1,2196.4 2212.2,2181.1 2226.3,2168.4 2233.9,2176.0 2241.6,2201.5 2249.2,2214.3 2258.2,2204.1 2281.1,2170.9 2290.1,2178.6 2298.5,2192.6 2306.6,2181.1 2313.8,2201.5 2322.4,2188.8 2328.3,2173.5 2337.2,2112.2 2341.6,2119.9 2349.5,2117.3" fill="none" stroke="#ff0000" stroke-width="8.0" stroke-linejoin="round" stroke-linecap="butt"/>
<polyline points="302.8,2396.9 310.8,2209.9 318.8,2266.1 326.8,2295.4 334.8,2346.4 342.8,2264.8 350.8,2246.9 358.8,1887.8 366.8,2295.4 374.8,2162.2 382.8,2419.9 390.7,2269.9 398.7,2240.6 406.7,2234.2 414.7,2325.3 422.7,2201.0 430.7,2033.2 438.7,2107.1 446.7,2493.6 454.7,2300.5 462.7,1871.9 470.7,2148.0 478.7,2382.1 486.7,2108.4 494.7,2216.8 502.7,2350.3 510.7,2136.5 518.7,2119.9 526.7,2204.8 534.7,2333.7 542.6,2209.9 550.6,2184.4 558.6,2150.5 566.6,2295.9 574.6,2049.0 582.6,2235.5 590.6,2198.5 598.6,2063.3 606.6,2096.9 614.6,2303.1 622.6,2350.3 630.6,2234.2 638.6,2209.9 646.6,2030.6 654.6,2393.6 662.6,1980.9 670.6,2345.2 678.6,1853.3 686.6,2168.4 694.6,1992.3 702.5,2193.4 710.5,2361.7 718.5,2221.4 726.5,2035.7 734.5,2470.2 742.5,2001.3 750.5,2359.9 758.5,2020.9 766.5,2158.2 774.5,2001.3 782.5,2259.7 790.5,2140.3 798.5,2268.6 806.5,2197.2 814.5,2079.1 822.5,2148.0 830.5,2499.5 838.5,2221.9 846.5,1945.2 854.5,2428.1 862.5,2462.5 870.4,2204.8 878.4,2059.2 886.4,2289.8 894.4,2292.3 902.4,2006.4 910.4,2079.1 918.4,2158.2 926.4,2323.5 934.4,2489.3 942.4,2234.2 950.4,2020.4 958.4,2337.5 966.4,2233.5 974.4,2245.0 982.4,2165.4 990.4,2327.3 998.4,2198.9 1006.4,2182.7 1014.4,2153.9 1022.3,2265.8 1030.3,2029.3 1038.3,2308.2 1046.3,2108.3 1054.3,2237.0 1062.3,2296.7 1070.3,2187.3 1078.3,2125.0 1086.3,2182.7 1094.3,2071.4 1102.3,2204.6 1110.3,2412.8 1118.3,2415.3 1126.3,2213.8 1134.3,2152.6 1142.3,2282.7 1150.3,2412.2 1158.3,1921.7 1166.3,2257.1 1174.3,2226.5 1182.2,2153.8 1190.2,2180.6 1198.2,2116.8 1206.2,2174.2 1214.2,2184.4 1222.2,2616.8 1230.2,2190.8 1238.2,2172.4 1246.2,2417.3 1254.2,2188.3 1262.2,2063.3 1270.2,2201.0 1278.2,2096.4 1286.2,2061.2 1294.2,2341.3 1302.2,2287.8 1310.2,2032.7 1318.2,1934.4 1326.2,2037.8 1334.2,2338.8 1342.1,2325.5 1350.1,2322.2 1358.1,2165.3 1366.1,2249.5 1374.1,2224.0 1382.1,2208.7 1390.1,2132.1 1398.1,2392.3 1406.1,1688.8 1414.1,2311.2 1422.1,2153.8 1430.1,2561.2 1438.1,1875.0 1446.1,2019.9 1454.1,2150.0 1462.1,2304.3 1470.1,2331.6 1478.1,2119.4 1486.1,2213.8 1494.1,2303.1 1502.0,2221.4 1510.0,2479.1 1518.0,2246.9 1526.0,2007.1 1534.0,1952.3 1542.0,2384.2 1550.0,2201.0 1558.0,2308.2 1566.0,2241.8 1574.0,2180.6 1582.0,2350.3 1590.0,1967.6 1598.0,2278.1 1606.0,2133.4 1614.0,2132.9 1622.0,2035.2 1630.0,1988.8 1638.0,2410.2 1646.0,2326.0 1654.0,2243.9 1662.0,2290.8 1669.9,2169.9 1677.9,2387.8 1685.9,2058.2 1693.9,2151.3 1701.9,2102.8 1709.9,2537.2 1717.9,2160.2 1725.9,1724.0 1733.9,2338.8 1741.9,2295.4" fill="none" stroke="#000000" stroke-width="4.1" stroke-linejoin="round" stroke-linecap="butt"/>
<polyline points="1853.8,2345.2 1861.8,2392.3 1869.8,2111.7 1877.8,2073.5 1885.8,1662.2 1893.8,2102.8 1901.8,1976.5 1909.8,2178.1 1917.8,2158.9 1925.8,2384.2 1933.8,2180.6 1941.8,2025.0 1949.8,2064.5 1957.8,2218.9 1965.8,2347.7 1973.8,2252.0 1981.8,2466.3 1989.7,1818.4 1997.7,2196.4 2005.7,2317.1 2013.7,2178.6 2021.7,2043.4 2029.7,1960.5 2037.7,2127.6 2045.7,2120.4 2053.7,2414.0 2061.7,2167.9 2069.7,2233.7 2077.7,1924.2 2085.7,2332.4 2093.7,2355.4 2101.7,2295.4 2109.7,2235.5 2117.7,2323.5 2125.7,2051.5 2133.7,2112.2 2141.7,2173.0 2149.6,2119.4 2157.6,2218.9 2165.6,2238.8 2173.6,2231.1 2181.6,2388.5 2189.6,2022.4 2197.6,2148.0 2205.6,2264.8 2213.6,2180.6 2221.6,2398.7 2229.6,2338.8 2237.6,1909.4 2245.6,2024.2 2253.6,2052.3 2261.6,1969.4 2269.6,2239.3 2277.6,2551.8 2285.6,2218.4 2293.6,2328.6 2301.6,1951.0 2309.5,2127.6 2317.5,2170.9 2325.5,2107.1 2333.5,1991.8 2341.5,2227.8 2349.5,1932.4 2357.5,2281.4 2365.5,1979.6 2373.5,1910.7" fill="none" stroke="#000000" stroke-width="4.1" stroke-linejoin="round" stroke-linecap="butt"/>
<polyline points="322.7,2290.8 326.5,2289.0 330.4,2238.0 338.0,2236.7 343.1,2253.3 352.0,2241.8 361.0,2243.1 371.2,2248.2 380.1,2236.7 387.8,2212.5 394.9,2199.7 403.1,2224.0 412.0,2249.5 418.4,2213.8 431.1,2209.9 438.8,2199.7 445.2,2193.4 451.5,2192.1 459.2,2203.6 466.8,2188.3 474.5,2183.2 483.4,2195.9 491.1,2213.8 498.7,2190.8 506.4,2185.7 515.3,2208.7 523.0,2221.4 530.6,2194.6 538.3,2204.8 547.2,2199.7 556.1,2175.5 563.8,2174.2 571.4,2188.3 579.1,2202.3 586.7,2194.6 594.4,2193.4 603.3,2181.9 611.0,2202.3 618.6,2175.5 627.0,2199.7 634.7,2169.1 642.9,2166.6 650.5,2161.5 658.2,2170.4 665.8,2174.2 674.7,2165.3 682.4,2153.8 690.1,2175.5 705.5,2172.2 714.4,2176.0 722.1,2162.0 732.3,2176.0 743.8,2191.3 752.7,2195.2 761.6,2183.7 770.6,2170.9 778.2,2179.8 787.1,2182.4 793.5,2209.2 802.4,2170.9 810.1,2207.9 817.8,2229.6 825.9,2247.4 834.3,2232.1 843.3,2244.9 850.9,2247.4 858.6,2229.6 867.5,2230.1 875.2,2231.6 882.8,2214.8 890.5,2229.6 898.6,2260.2 905.8,2229.6 913.4,2216.8 921.1,2220.7 930.5,2236.0 938.2,2224.5 946.6,2225.8 954.2,2241.1 961.9,2251.3 969.5,2252.6 978.5,2249.5 986.1,2207.9 995.1,2205.4 1001.9,2213.0 1009.8,2204.1 1018.0,2209.2 1026.9,2204.1 1035.9,2200.3 1043.5,2188.8 1051.2,2178.6 1058.8,2179.8 1066.5,2201.5 1072.9,2210.5 1081.8,2229.6 1090.2,2215.6 1098.4,2229.6 1106.0,2244.9 1113.7,2213.0 1122.6,2218.1 1129.1,2224.0 1138.1,2222.7 1145.7,2234.2 1155.9,2225.3 1163.6,2204.8 1171.2,2185.7 1178.4,2218.9 1186.5,2224.0 1195.5,2215.8 1203.1,2216.3 1210.3,2240.6 1218.4,2222.7 1229.9,2220.2 1242.7,2204.8 1250.3,2224.0 1258.5,2236.7 1266.9,2222.7 1273.3,2167.9 1282.2,2153.8 1289.8,2165.3 1298.3,2158.9 1306.4,2171.7 1314.1,2180.6 1323.0,2183.2 1331.9,2197.2 1338.8,2206.1 1346.0,2188.3 1354.9,2197.2 1361.3,2166.6 1368.2,2195.9 1377.9,2213.8 1386.8,2229.1 1394.4,2195.9 1402.1,2165.3 1409.7,2161.5 1418.7,2167.9 1426.3,2175.5 1434.0,2167.9 1441.6,2174.2 1450.6,2166.6 1458.2,2209.9 1467.1,2226.5 1474.8,2230.4 1482.4,2183.2 1491.4,2190.8 1499.0,2218.9 1504.1,2226.5 1514.3,2226.5 1522.0,2220.2 1530.9,2225.3 1538.6,2238.0 1546.2,2209.9 1553.9,2211.2 1557.9,2201.0 1563.0,2187.0 1570.6,2178.6 1578.3,2181.9 1587.2,2185.7 1594.8,2188.3 1602.0,2195.9 1607.6,2191.3 1617.8,2194.6 1626.7,2194.6 1635.7,2198.5 1641.5,2204.8 1648.4,2193.4 1653.5,2190.8 1659.4,2190.8 1665.0,2221.4 1672.7,2227.8 1679.0,2208.7 1688.0,2201.0 1696.9,2197.2 1704.5,2190.8 1710.9,2188.3 1714.0,2162.2 1716.5,2160.2 1719.8,2175.5" fill="none" stroke="#000000" stroke-width="8.0" stroke-linejoin="round" stroke-linecap="butt"/>
<polyline points="1870.4,2113.0 1872.9,2099.0 1878.0,2095.2 1884.4,2109.2 1893.3,2141.1 1902.2,2114.3 1908.6,2101.5 1914.5,2095.2 1921.4,2113.0 1929.0,2129.6 1934.1,2150.0 1938.0,2197.2 1945.6,2174.2 1954.5,2198.5 1960.9,2203.6 1970.6,2204.8 1977.5,2176.8 1985.2,2161.5 1992.9,2170.9 2001.8,2174.7 2009.4,2188.8 2018.4,2173.5 2027.3,2170.9 2033.7,2127.6 2041.3,2168.4 2049.0,2181.1 2057.9,2181.1 2065.6,2186.2 2073.2,2206.6 2082.1,2215.6 2089.8,2214.3 2098.7,2219.4 2105.1,2195.2 2114.0,2200.3 2121.7,2201.5 2129.3,2224.5 2138.3,2229.6 2144.6,2206.6 2152.3,2188.8 2161.2,2190.1 2169.4,2178.6 2176.5,2204.1 2186.2,2223.2 2193.1,2204.1 2200.8,2193.9 2208.4,2183.7 2216.1,2160.7 2226.3,2155.6 2233.9,2170.9 2241.6,2188.8 2249.2,2201.5 2256.9,2176.0 2264.5,2174.7 2273.5,2155.6 2281.1,2141.6 2290.1,2150.5 2297.7,2165.8 2305.4,2155.6 2313.8,2181.1 2322.4,2163.3 2329.6,2117.3 2337.2,2077.8 2341.6,2091.8 2349.5,2074.0" fill="none" stroke="#000000" stroke-width="8.0" stroke-linejoin="round" stroke-linecap="butt"/>
</g>
<line x1="255.5" y1="1620.7" x2="255.5" y2="2768.5" stroke="#1a1a1a" stroke-width="2.2"/>
<line x1="254.3" y1="2767.3" x2="2423.0" y2="2767.3" stroke="#1a1a1a" stroke-width="2.2"/>
<line x1="267.0" y1="2767.3" x2="267.0" y2="2744.8" stroke="#1a1a1a" stroke-width="2.2"/>
<text class="tk" text-anchor="end" transform="translate(294.6,2815.7) rotate(-45)">2002</text>
<line x1="362.9" y1="2767.3" x2="362.9" y2="2744.8" stroke="#1a1a1a" stroke-width="2.2"/>
<text class="tk" text-anchor="end" transform="translate(390.5,2815.7) rotate(-45)">2003</text>
<line x1="458.8" y1="2767.3" x2="458.8" y2="2744.8" stroke="#1a1a1a" stroke-width="2.2"/>
<text class="tk" text-anchor="end" transform="translate(486.4,2815.7) rotate(-45)">2004</text>
<line x1="554.8" y1="2767.3" x2="554.8" y2="2744.8" stroke="#1a1a1a" stroke-width="2.2"/>
<text class="tk" text-anchor="end" transform="translate(582.4,2815.7) rotate(-45)">2005</text>
<line x1="650.7" y1="2767.3" x2="650.7" y2="2744.8" stroke="#1a1a1a" stroke-width="2.2"/>
<text class="tk" text-anchor="end" transform="translate(678.3,2815.7) rotate(-45)">2006</text>
<line x1="746.6" y1="2767.3" x2="746.6" y2="2744.8" stroke="#1a1a1a" stroke-width="2.2"/>
<text class="tk" text-anchor="end" transform="translate(774.2,2815.7) rotate(-45)">2007</text>
<line x1="842.5" y1="2767.3" x2="842.5" y2="2744.8" stroke="#1a1a1a" stroke-width="2.2"/>
<text class="tk" text-anchor="end" transform="translate(870.1,2815.7) rotate(-45)">2008</text>
<line x1="938.4" y1="2767.3" x2="938.4" y2="2744.8" stroke="#1a1a1a" stroke-width="2.2"/>
<text class="tk" text-anchor="end" transform="translate(966.0,2815.7) rotate(-45)">2009</text>
<line x1="1034.4" y1="2767.3" x2="1034.4" y2="2744.8" stroke="#1a1a1a" stroke-width="2.2"/>
<text class="tk" text-anchor="end" transform="translate(1062.0,2815.7) rotate(-45)">2010</text>
<line x1="1130.3" y1="2767.3" x2="1130.3" y2="2744.8" stroke="#1a1a1a" stroke-width="2.2"/>
<text class="tk" text-anchor="end" transform="translate(1157.9,2815.7) rotate(-45)">2011</text>
<line x1="1226.2" y1="2767.3" x2="1226.2" y2="2744.8" stroke="#1a1a1a" stroke-width="2.2"/>
<text class="tk" text-anchor="end" transform="translate(1253.8,2815.7) rotate(-45)">2012</text>
<line x1="1322.1" y1="2767.3" x2="1322.1" y2="2744.8" stroke="#1a1a1a" stroke-width="2.2"/>
<text class="tk" text-anchor="end" transform="translate(1349.7,2815.7) rotate(-45)">2013</text>
<line x1="1418.0" y1="2767.3" x2="1418.0" y2="2744.8" stroke="#1a1a1a" stroke-width="2.2"/>
<text class="tk" text-anchor="end" transform="translate(1445.6,2815.7) rotate(-45)">2014</text>
<line x1="1514.0" y1="2767.3" x2="1514.0" y2="2744.8" stroke="#1a1a1a" stroke-width="2.2"/>
<text class="tk" text-anchor="end" transform="translate(1541.6,2815.7) rotate(-45)">2015</text>
<line x1="1609.9" y1="2767.3" x2="1609.9" y2="2744.8" stroke="#1a1a1a" stroke-width="2.2"/>
<text class="tk" text-anchor="end" transform="translate(1637.5,2815.7) rotate(-45)">2016</text>
<line x1="1705.8" y1="2767.3" x2="1705.8" y2="2744.8" stroke="#1a1a1a" stroke-width="2.2"/>
<text class="tk" text-anchor="end" transform="translate(1733.4,2815.7) rotate(-45)">2017</text>
<line x1="1801.7" y1="2767.3" x2="1801.7" y2="2744.8" stroke="#1a1a1a" stroke-width="2.2"/>
<text class="tk" text-anchor="end" transform="translate(1829.3,2815.7) rotate(-45)">2018</text>
<line x1="1897.6" y1="2767.3" x2="1897.6" y2="2744.8" stroke="#1a1a1a" stroke-width="2.2"/>
<text class="tk" text-anchor="end" transform="translate(1925.2,2815.7) rotate(-45)">2019</text>
<line x1="1993.6" y1="2767.3" x2="1993.6" y2="2744.8" stroke="#1a1a1a" stroke-width="2.2"/>
<text class="tk" text-anchor="end" transform="translate(2021.2,2815.7) rotate(-45)">2020</text>
<line x1="2089.5" y1="2767.3" x2="2089.5" y2="2744.8" stroke="#1a1a1a" stroke-width="2.2"/>
<text class="tk" text-anchor="end" transform="translate(2117.1,2815.7) rotate(-45)">2021</text>
<line x1="2185.4" y1="2767.3" x2="2185.4" y2="2744.8" stroke="#1a1a1a" stroke-width="2.2"/>
<text class="tk" text-anchor="end" transform="translate(2213.0,2815.7) rotate(-45)">2022</text>
<line x1="2281.3" y1="2767.3" x2="2281.3" y2="2744.8" stroke="#1a1a1a" stroke-width="2.2"/>
<text class="tk" text-anchor="end" transform="translate(2308.9,2815.7) rotate(-45)">2023</text>
<line x1="2377.2" y1="2767.3" x2="2377.2" y2="2744.8" stroke="#1a1a1a" stroke-width="2.2"/>
<text class="tk" text-anchor="end" transform="translate(2404.8,2815.7) rotate(-45)">2024</text>
<line x1="255.5" y1="1621.9" x2="278.0" y2="1621.9" stroke="#1a1a1a" stroke-width="2.2"/>
<text class="tk" text-anchor="end" x="235.8" y="1637.9">600</text>
<line x1="255.5" y1="1812.8" x2="278.0" y2="1812.8" stroke="#1a1a1a" stroke-width="2.2"/>
<text class="tk" text-anchor="end" x="235.8" y="1828.8">400</text>
<line x1="255.5" y1="2003.7" x2="278.0" y2="2003.7" stroke="#1a1a1a" stroke-width="2.2"/>
<text class="tk" text-anchor="end" x="235.8" y="2019.7">200</text>
<line x1="255.5" y1="2194.6" x2="278.0" y2="2194.6" stroke="#1a1a1a" stroke-width="2.2"/>
<text class="tk" text-anchor="end" x="235.8" y="2210.6">0</text>
<line x1="255.5" y1="2385.5" x2="278.0" y2="2385.5" stroke="#1a1a1a" stroke-width="2.2"/>
<text class="tk" text-anchor="end" x="235.8" y="2401.5"><tspan class="mn">−</tspan>200</text>
<line x1="255.5" y1="2576.4" x2="278.0" y2="2576.4" stroke="#1a1a1a" stroke-width="2.2"/>
<text class="tk" text-anchor="end" x="235.8" y="2592.4"><tspan class="mn">−</tspan>400</text>
<line x1="255.5" y1="2767.3" x2="278.0" y2="2767.3" stroke="#1a1a1a" stroke-width="2.2"/>
<text class="tk" text-anchor="end" x="235.8" y="2783.3"><tspan class="mn">−</tspan>600</text>
<text class="ti" y="1596.7"><tspan text-anchor="end" x="1987.5">(b) Arab Gulf Sea (Non-seasonal). Corr. coef.: 0.88</tspan></text>
<text class="ti" y="1596.7"><tspan class="pm" x="1985.4">±</tspan><tspan x="2041.0">0.02</tspan></text>
<text class="yl" text-anchor="middle" transform="translate(83.7,2204.0) rotate(-90)">Km<tspan dy="-30" font-size="50">3</tspan><tspan dy="30">/year</tspan></text>
<rect x="287" y="2590.6" width="363" height="144.8" fill="#fff" stroke="#262626" stroke-width="2.2"/>
<line x1="299.6" x2="423.8" y1="2629.9" y2="2629.9" stroke="#ff0000" stroke-width="3.4"/>
<line x1="299.6" x2="423.8" y1="2696.9" y2="2696.9" stroke="#000" stroke-width="3.4"/>
<text class="lg" x="433.6" y="2649.7">R</text>
<text class="lg" y="2715.4"><tspan x="434">(</tspan><tspan class="mn2" x="450.7">−</tspan><tspan x="491">1</tspan><tspan x="519.7">) </tspan><tspan class="tm" x="547.7" dy="2.5">× </tspan><tspan x="601.3" dy="-2.5">N</tspan></text>
</svg></body></html>
